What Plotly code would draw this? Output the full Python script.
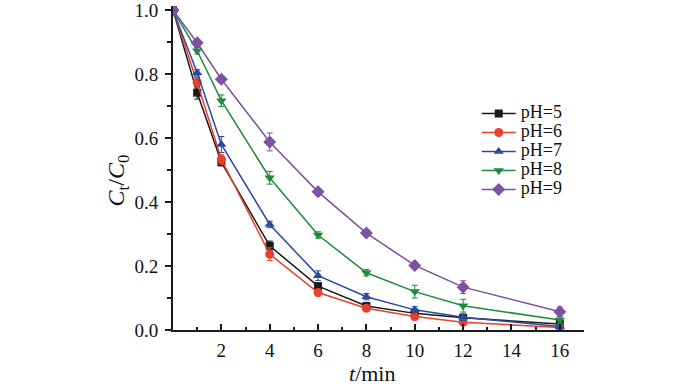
import plotly.graph_objects as go

t = [0, 1, 2, 4, 6, 8, 10, 12, 16]
ph5 = [1.0, 0.742, 0.525, 0.263, 0.137, 0.075, 0.052, 0.038, 0.019]
ph6 = [1.0, 0.774, 0.533, 0.237, 0.117, 0.068, 0.042, 0.024, 0.008]
ph7 = [1.0, 0.804, 0.58, 0.33, 0.17, 0.104, 0.063, 0.04, 0.011]
ph8 = [1.0, 0.873, 0.717, 0.476, 0.297, 0.179, 0.12, 0.076, 0.031]
ph9 = [1.0, 0.898, 0.784, 0.588, 0.432, 0.303, 0.202, 0.134, 0.057]

err5 = [0.01, 0.02, 0.012, 0.015, 0.01, 0.01, 0.01, 0.01, 0.01]
err6 = [0.01, 0.015, 0.015, 0.02, 0.01, 0.01, 0.01, 0.01, 0.006]
err7 = [0.01, 0.01, 0.025, 0.01, 0.015, 0.01, 0.01, 0.01, 0.006]
err8 = [0.01, 0.01, 0.018, 0.02, 0.01, 0.01, 0.02, 0.02, 0.01]
err9 = [0.01, 0.01, 0.01, 0.028, 0.01, 0.01, 0.01, 0.02, 0.015]

names = ["pH=5", "pH=6", "pH=7", "pH=8", "pH=9"]
series = [ph5, ph6, ph7, ph8, ph9]
errs = [err5, err6, err7, err8, err9]
colors = ["#1a1a1a", "#e8402a", "#2b4a9c", "#1e8a3c", "#7d529e"]
symbols = ["square", "circle", "triangle-up", "triangle-down", "diamond"]
sizes = [8, 9, 9, 9, 10]

xticks = [2, 4, 6, 8, 10, 12, 14, 16]
yticks = [0.0, 0.2, 0.4, 0.6, 0.8, 1.0]

fig = go.Figure()
for n, y, e, c, s, sz in zip(names, series, errs, colors, symbols, sizes):
    fig.add_trace(go.Scatter(
        x=t, y=y, name='<span style="font-size:18px">' + n + '</span>',
        mode="lines+markers",
        line=dict(color=c, width=1.5),
        marker=dict(color=c, symbol=s, size=sz),
        error_y=dict(type="data", array=e, visible=True, color=c, thickness=1, width=3),
    ))

font = "Liberation Serif, Times New Roman, serif"
fig.update_layout(
    width=700, height=386,
    margin=dict(l=173, r=116, t=6, b=56, autoexpand=False),
    paper_bgcolor="white", plot_bgcolor="white",
    font=dict(family=font, size=19, color="#111111"),
    showlegend=True,
    legend=dict(x=0.739, y=0.713, xanchor="left", yanchor="top",
                font=dict(family=font, size=12.3, color="#111111"),
                bgcolor="rgba(0,0,0,0)", itemwidth=34, tracegroupgap=0),
    xaxis=dict(
        range=[0, 17], tickvals=xticks, ticktext=[str(v) for v in xticks],
        automargin=False, ticklabeloverflow="allow",
        showline=True, linecolor="#1a1a1a", linewidth=2,
        ticks="inside", ticklen=6, tickcolor="#1a1a1a", tickwidth=1.5,
        ticklabelstandoff=2,
        minor=dict(tickvals=[1, 3, 5, 7, 9, 11, 13, 15, 17], ticks="inside", ticklen=3,
                   tickcolor="#1a1a1a", tickwidth=1.5),
        showgrid=False, zeroline=False,
    ),
    yaxis=dict(
        range=[0, 1.013], tickvals=yticks, ticktext=["%.1f" % v for v in yticks],
        automargin=False, ticklabeloverflow="allow",
        showline=True, linecolor="#1a1a1a", linewidth=2,
        ticks="outside", ticklen=6, tickcolor="#1a1a1a", tickwidth=1.5,
        ticklabelstandoff=3,
        minor=dict(tickvals=[0.1, 0.3, 0.5, 0.7, 0.9], ticks="outside", ticklen=4,
                   tickcolor="#1a1a1a", tickwidth=1.5),
        showgrid=False, zeroline=False,
    ),
    annotations=[
        dict(text="<i>t</i>/min", xref="paper", yref="paper",
             x=0.484, y=-0.133, xanchor="center", yanchor="middle", showarrow=False,
             font=dict(family=font, size=22, color="#111111")),
        dict(text="<i>C</i><sub>t</sub>/<i>C</i><sub>0</sub>", xref="paper", yref="paper",
             x=-0.135, y=0.46, xanchor="center", yanchor="middle", textangle=-90,
             showarrow=False, font=dict(family=font, size=24, color="#111111")),
    ],
)

fig.write_html("out.html", config={"displayModeBar": False},
               post_script="document.body.style.margin='0px';")
